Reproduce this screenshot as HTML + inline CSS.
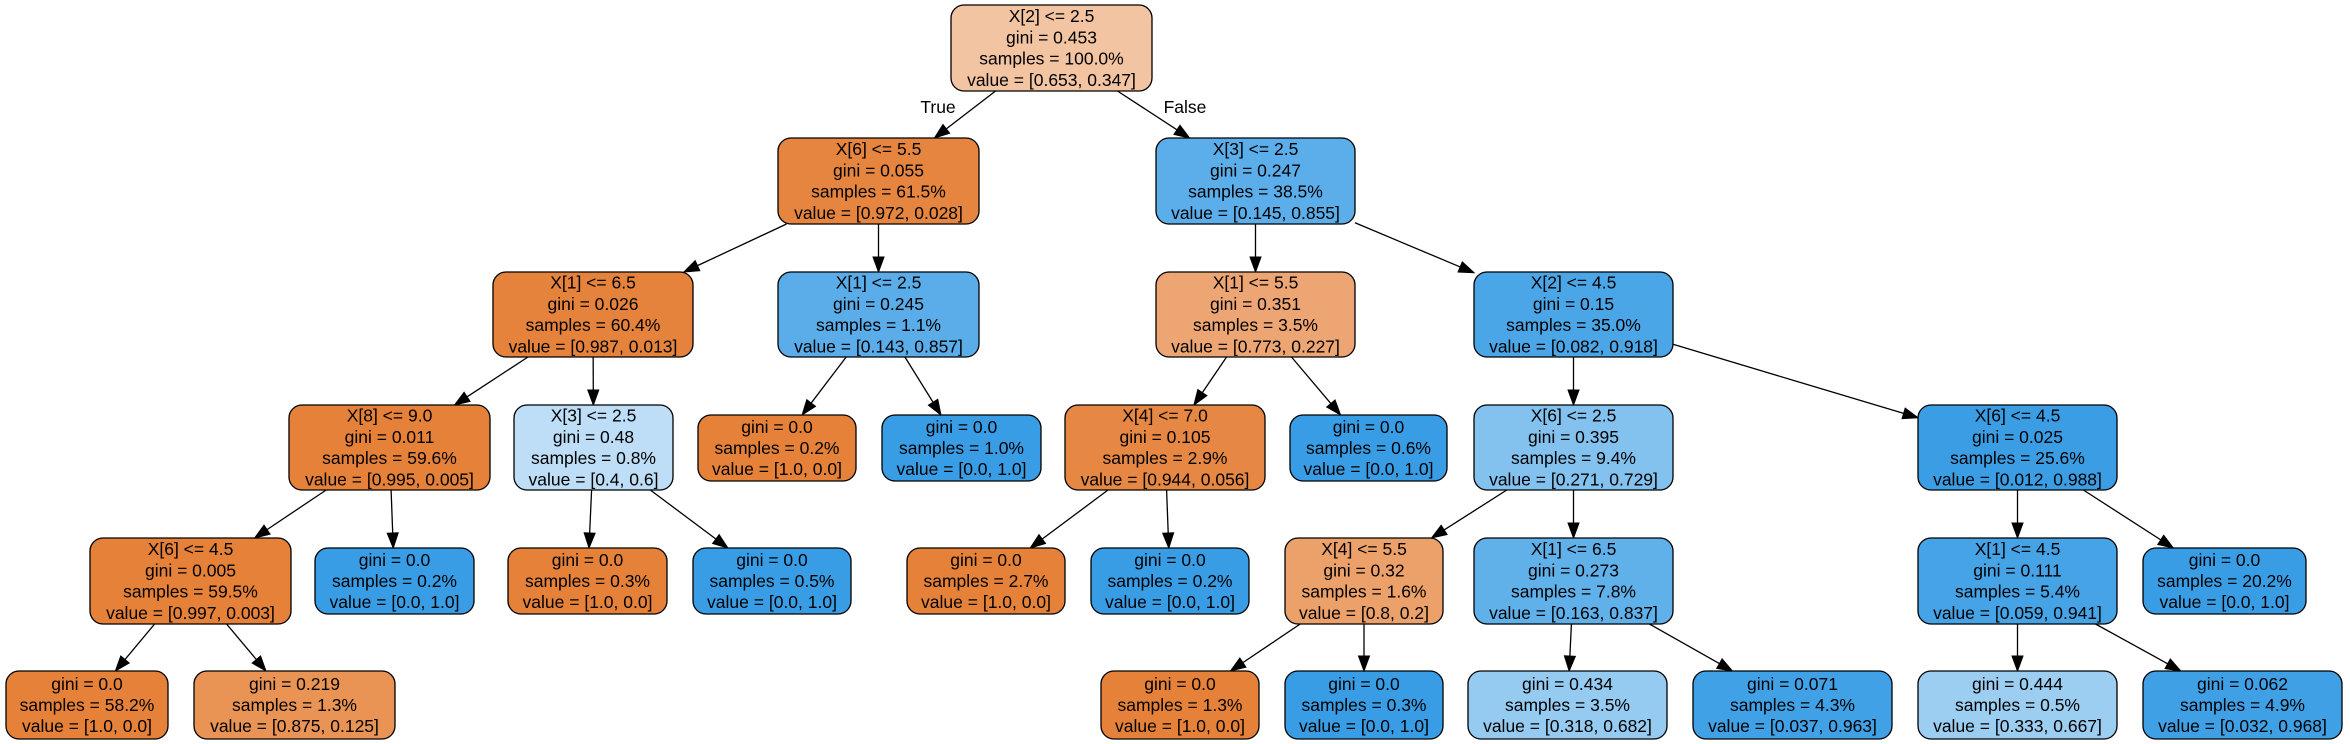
<!DOCTYPE html>
<html><head><meta charset="utf-8">
<style>
html,body{margin:0;padding:0;background:#fff;}
svg{display:block;}
text{font-family:"Liberation Sans",Helvetica,Arial,sans-serif;font-size:17.5px;fill:#000;}
</style></head>
<body>
<svg id="s" width="2350" height="744" viewBox="0 0 2350 744" xmlns="http://www.w3.org/2000/svg">
<text x="938" y="113" text-anchor="middle">True</text>
<text x="1185" y="113" text-anchor="middle">False</text>
</svg>
<script>
var L0=[5,91],L1=[138,224],L2=[272,357],L3=[405,490],L3l=[415,481],L4=[538,624],L4l=[548,614],L5l=[671,739];
var N={
r:[951,1152,L0,'#f3c4a2',['X[2] <= 2.5','gini = 0.453','samples = 100.0%','value = [0.653, 0.347]']],
a:[778,979,L1,'#e6853f',['X[6] <= 5.5','gini = 0.055','samples = 61.5%','value = [0.972, 0.028]']],
b:[1156,1355,L1,'#5baee9',['X[3] <= 2.5','gini = 0.247','samples = 38.5%','value = [0.145, 0.855]']],
c:[493,693,L2,'#e5823b',['X[1] <= 6.5','gini = 0.026','samples = 60.4%','value = [0.987, 0.013]']],
d:[778,979,L2,'#5aade9',['X[1] <= 2.5','gini = 0.245','samples = 1.1%','value = [0.143, 0.857]']],
e:[1156,1355,L2,'#eda673',['X[1] <= 5.5','gini = 0.351','samples = 3.5%','value = [0.773, 0.227]']],
f:[1474,1673,L2,'#4ba6e7',['X[2] <= 4.5','gini = 0.15','samples = 35.0%','value = [0.082, 0.918]']],
g:[289,490,L3,'#e58139',['X[8] <= 9.0','gini = 0.011','samples = 59.6%','value = [0.995, 0.005]']],
h:[514,673,L3,'#bddef6',['X[3] <= 2.5','gini = 0.48','samples = 0.8%','value = [0.4, 0.6]']],
i:[698,856,L3l,'#e58139',['gini = 0.0','samples = 0.2%','value = [1.0, 0.0]']],
j:[882,1041,L3l,'#399de5',['gini = 0.0','samples = 1.0%','value = [0.0, 1.0]']],
k:[1065,1265,L3,'#e68844',['X[4] <= 7.0','gini = 0.105','samples = 2.9%','value = [0.944, 0.056]']],
l:[1290,1447,L3l,'#399de5',['gini = 0.0','samples = 0.6%','value = [0.0, 1.0]']],
m:[1474,1673,L3,'#83c1ef',['X[6] <= 2.5','gini = 0.395','samples = 9.4%','value = [0.271, 0.729]']],
n:[1918,2117,L3,'#3b9ee5',['X[6] <= 4.5','gini = 0.025','samples = 25.6%','value = [0.012, 0.988]']],
o:[90,291,L4,'#e58139',['X[6] <= 4.5','gini = 0.005','samples = 59.5%','value = [0.997, 0.003]']],
p:[315,474,L4l,'#399de5',['gini = 0.0','samples = 0.2%','value = [0.0, 1.0]']],
q:[508,667,L4l,'#e58139',['gini = 0.0','samples = 0.3%','value = [1.0, 0.0]']],
t:[693,851,L4l,'#399de5',['gini = 0.0','samples = 0.5%','value = [0.0, 1.0]']],
u:[907,1065,L4l,'#e58139',['gini = 0.0','samples = 2.7%','value = [1.0, 0.0]']],
v:[1091,1249,L4l,'#399de5',['gini = 0.0','samples = 0.2%','value = [0.0, 1.0]']],
w:[1285,1443,L4,'#eca06a',['X[4] <= 5.5','gini = 0.32','samples = 1.6%','value = [0.8, 0.2]']],
x:[1474,1673,L4,'#60b0ea',['X[1] <= 6.5','gini = 0.273','samples = 7.8%','value = [0.163, 0.837]']],
y:[1918,2117,L4,'#45a3e6',['X[1] <= 4.5','gini = 0.111','samples = 5.4%','value = [0.059, 0.941]']],
z:[2143,2306,L4l,'#399de5',['gini = 0.0','samples = 20.2%','value = [0.0, 1.0]']],
A:[6,168,L5l,'#e58139',['gini = 0.0','samples = 58.2%','value = [1.0, 0.0]']],
B:[194,395,L5l,'#e99355',['gini = 0.219','samples = 1.3%','value = [0.875, 0.125]']],
C:[1101,1259,L5l,'#e58139',['gini = 0.0','samples = 1.3%','value = [1.0, 0.0]']],
D:[1285,1443,L5l,'#399de5',['gini = 0.0','samples = 0.3%','value = [0.0, 1.0]']],
E:[1468,1667,L5l,'#95cbf1',['gini = 0.434','samples = 3.5%','value = [0.318, 0.682]']],
F:[1693,1892,L5l,'#41a1e6',['gini = 0.071','samples = 4.3%','value = [0.037, 0.963]']],
G:[1918,2117,L5l,'#9ccef2',['gini = 0.444','samples = 0.5%','value = [0.333, 0.667]']],
H:[2143,2342,L5l,'#40a0e6',['gini = 0.062','samples = 4.9%','value = [0.032, 0.968]']]
};
var E=[['r','a'],['r','b'],['a','c'],['a','d'],['b','e'],['b','f'],['c','g'],['c','h'],['d','i'],['d','j'],['e','k'],['e','l'],['f','m'],['f','n'],['g','o'],['g','p'],['h','q'],['h','t'],['k','u'],['k','v'],['m','w'],['m','x'],['n','y'],['n','z'],['o','A'],['o','B'],['w','C'],['w','D'],['x','E'],['x','F'],['y','G'],['y','H']];
var s=document.getElementById('s'),NS='http://www.w3.org/2000/svg',out='';
function c(n){return [(n[0]+n[1])/2,(n[2][0]+n[2][1])/2];}
function clip(n,cx,cy,dx,dy){var hw=(n[1]-n[0])/2,hh=(n[2][1]-n[2][0])/2;var t=Math.min(dx?hw/Math.abs(dx):1e9,dy?hh/Math.abs(dy):1e9);return [cx+dx*t,cy+dy*t];}
E.forEach(function(e){var p=N[e[0]],q=N[e[1]];var a=c(p),b=c(q);var dx=b[0]-a[0],dy=b[1]-a[1];
var s1=clip(p,a[0],a[1],dx,dy),s2=clip(q,b[0],b[1],-dx,-dy);
var L=Math.hypot(s2[0]-s1[0],s2[1]-s1[1]),ux=(s2[0]-s1[0])/L,uy=(s2[1]-s1[1])/L;
var al=15,aw=5.5,bx=s2[0]-ux*al,by=s2[1]-uy*al;
out+='<line x1="'+s1[0]+'" y1="'+s1[1]+'" x2="'+bx+'" y2="'+by+'" stroke="#000" stroke-width="1.3"/>';
out+='<polygon points="'+s2[0]+','+s2[1]+' '+(bx-uy*aw)+','+(by+ux*aw)+' '+(bx+uy*aw)+','+(by-ux*aw)+'" fill="#000" stroke="#000" stroke-width="1"/>';});
for(var k in N){var n=N[k];var w=n[1]-n[0],h=n[2][1]-n[2][0];
out+='<rect x="'+n[0]+'" y="'+n[2][0]+'" width="'+w+'" height="'+h+'" rx="13" ry="13" fill="'+n[3]+'" stroke="#000" stroke-width="1.3"/>';
var ln=n[4],cy=n[2][0]+h/2,sp=21.2;
for(var i=0;i<ln.length;i++){var y=cy+(i-(ln.length-1)/2)*sp+6;
out+='<text x="'+(n[0]+w/2)+'" y="'+y+'" text-anchor="middle">'+ln[i].replace(/</g,'&lt;')+'</text>';}}
s.insertAdjacentHTML('beforeend',out);
</script>
</body></html>
